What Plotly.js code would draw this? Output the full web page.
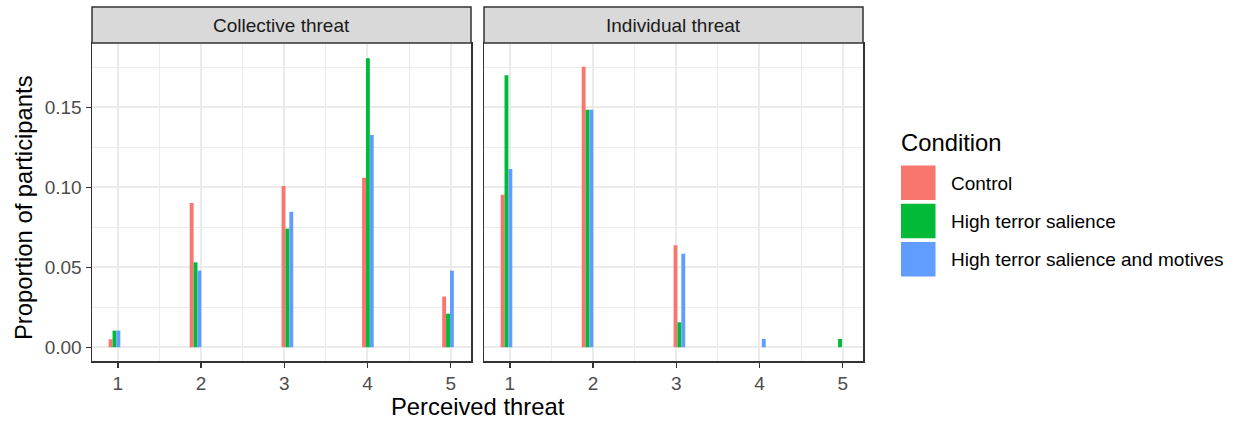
<!DOCTYPE html>
<html>
<head>
<meta charset="utf-8">
<script src="https://cdn.plot.ly/plotly-3.0.1.min.js"></script>
<style>html,body{margin:0;padding:0;background:#fff;}#chart{width:1238px;height:425px;}</style>
</head>
<body>
<div id="chart"></div>
<script>
// ---- data ----
const panels = ["Collective threat", "Individual threat"];
const conditions = ["Control", "High terror salience", "High terror salience and motives"];
const colors = ["#F8766D", "#00BA38", "#619CFF"];
const threatLevels = [1, 2, 3, 4, 5];
const tickLabels = ["1", "2", "3", "4", "5"];
// bar-group x positions as drawn (slightly jittered around each level)
const groupX = [0.96, 1.934, 3.038, 4.005, 4.968];
// Collective threat proportions
const collectiveControl = [0.0050, 0.0902, 0.1008, 0.1060, 0.0317];
const collectiveHigh = [0.0104, 0.0531, 0.0742, 0.1808, 0.0210];
const collectiveMotives = [0.0104, 0.0479, 0.0848, 0.1327, 0.0479];
// Individual threat proportions
const individualControl = [0.0954, 0.1754, 0.0638, 0, 0];
const individualHigh = [0.1702, 0.1485, 0.0156, 0, 0.0052];
const individualMotives = [0.1115, 0.1485, 0.0585, 0.0052, 0];
const yTicks = [0, 0.05, 0.10, 0.15];
const yTickLabels = ["0.00", "0.05", "0.10", "0.15"];

// ---- layout helpers ----
const W = 1238, H = 425;
const M = {l: 92, r: 375, t: 43, b: 64};
const PW = W - M.l - M.r, PH = H - M.t - M.b;
const px2x = p => (p - M.l) / PW;
const py2y = p => (H - M.b - p) / PH;

const groupWidth = 0.14;
const bw = groupWidth / 3;
const series = [
  [collectiveControl, collectiveHigh, collectiveMotives],
  [individualControl, individualHigh, individualMotives]
];

const traces = [];
series.forEach((set, pi) => {
  set.forEach((vals, ci) => {
    traces.push({
      type: "bar",
      x: groupX,
      y: vals,
      width: bw,
      offset: -groupWidth / 2 + ci * bw,
      marker: {color: colors[ci], line: {width: 0}},
      name: conditions[ci],
      showlegend: false,
      xaxis: pi === 0 ? "x" : "x2",
      yaxis: pi === 0 ? "y" : "y2",
      hoverinfo: "x+y+name"
    });
  });
});

const dom1 = [0, px2x(471)];
const dom2 = [px2x(484), 1];
const xRange = [0.69, 5.244];
const yRange = [-0.0086, 0.1903];

const gridMajor = "#EBEBEB";
function xaxis(domain, anchor) {
  return {
    domain: domain, anchor: anchor, range: xRange,
    tickmode: "array", tickvals: threatLevels, ticktext: tickLabels,
    ticks: "outside", ticklen: 5, tickwidth: 1.5, tickcolor: "#333333",
    tickfont: {family: "Liberation Sans, Arial, sans-serif", size: 19, color: "#4D4D4D"},
    showgrid: true, gridcolor: gridMajor, gridwidth: 2,
    minor: {tickmode: "array", tickvals: [1.5, 2.5, 3.5, 4.5], showgrid: true, gridcolor: gridMajor, gridwidth: 1, ticks: ""},
    showline: true, mirror: true, linecolor: "#333333", linewidth: 1.5,
    zeroline: false, fixedrange: true
  };
}
function yaxis(anchor, labels) {
  return {
    domain: [0, 1], anchor: anchor, range: yRange,
    tickmode: "array", tickvals: yTicks, ticktext: yTickLabels,
    ticks: labels ? "outside" : "", ticklen: 5, tickwidth: 1.5, tickcolor: "#333333",
    showticklabels: labels,
    tickfont: {family: "Liberation Sans, Arial, sans-serif", size: 19, color: "#4D4D4D"},
    showgrid: true, gridcolor: gridMajor, gridwidth: 2,
    minor: {tickmode: "array", tickvals: [0.025, 0.075, 0.125, 0.175], showgrid: true, gridcolor: gridMajor, gridwidth: 1, ticks: ""},
    showline: true, mirror: true, linecolor: "#333333", linewidth: 1.5,
    zeroline: false, fixedrange: true
  };
}

const shapes = [];
const annotations = [];
const stripTop = py2y(7);
[dom1, dom2].forEach((d, i) => {
  shapes.push({type: "rect", xref: "paper", yref: "paper", x0: d[0], x1: d[1], y0: 1, y1: stripTop,
    fillcolor: "#D9D9D9", line: {color: "#333333", width: 1.5}, layer: "above"});
  annotations.push({xref: "paper", yref: "paper", x: (d[0] + d[1]) / 2, y: (1 + stripTop) / 2,
    text: panels[i], showarrow: false, xanchor: "center", yanchor: "middle",
    font: {family: "Liberation Sans, Arial, sans-serif", size: 19, color: "#1A1A1A"}});
});

// axis titles
annotations.push({xref: "paper", yref: "paper", x: px2x(477.5), y: py2y(406), text: "Perceived threat",
  showarrow: false, xanchor: "center", yanchor: "middle",
  font: {family: "Liberation Sans, Arial, sans-serif", size: 23.8, color: "#000000"}});
annotations.push({xref: "paper", yref: "paper", x: px2x(23), y: py2y(208), text: "Proportion of participants",
  showarrow: false, textangle: -90, xanchor: "center", yanchor: "middle",
  font: {family: "Liberation Sans, Arial, sans-serif", size: 23.8, color: "#000000"}});

// legend (drawn manually to match key size)
annotations.push({xref: "paper", yref: "paper", x: px2x(899), y: py2y(142), text: "Condition",
  showarrow: false, xanchor: "left", yanchor: "middle",
  font: {family: "Liberation Sans, Arial, sans-serif", size: 23.8, color: "#000000"}});
conditions.forEach((c, i) => {
  const top = 165.5 + i * 38.2;
  shapes.push({type: "rect", xref: "paper", yref: "paper", x0: px2x(901), x1: px2x(935.5),
    y0: py2y(top + 34.5), y1: py2y(top), fillcolor: colors[i], line: {width: 0}});
  annotations.push({xref: "paper", yref: "paper", x: px2x(949), y: py2y(top + 17.5), text: c,
    showarrow: false, xanchor: "left", yanchor: "middle",
    font: {family: "Liberation Sans, Arial, sans-serif", size: 19, color: "#000000"}});
});

const layout = {
  width: W, height: H,
  margin: M,
  paper_bgcolor: "#FFFFFF", plot_bgcolor: "#FFFFFF",
  barmode: "overlay",
  showlegend: false,
  xaxis: xaxis(dom1, "y"),
  yaxis: yaxis("x", true),
  xaxis2: xaxis(dom2, "y2"),
  yaxis2: yaxis("x2", false),
  shapes: shapes,
  annotations: annotations,
  font: {family: "Liberation Sans, Arial, sans-serif"}
};

Plotly.newPlot("chart", traces, layout, {displayModeBar: false, staticPlot: true});
</script>
</body>
</html>
